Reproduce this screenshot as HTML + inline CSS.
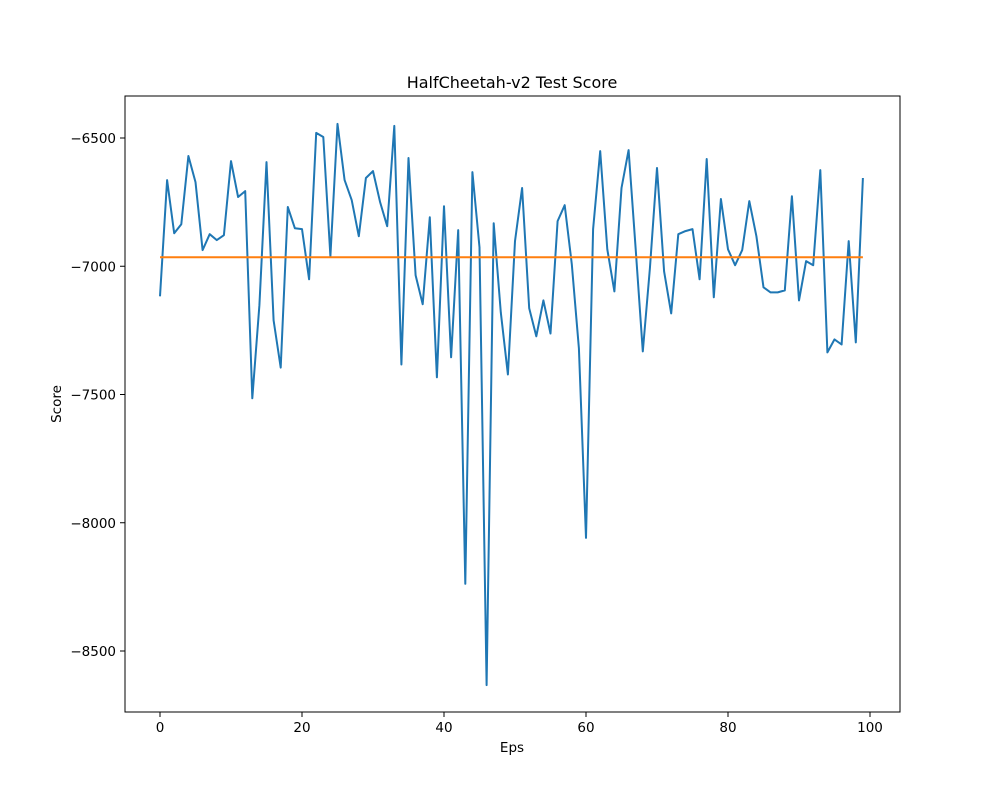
<!DOCTYPE html>
<html><head><meta charset="utf-8"><style>
body{margin:0;background:#fff;}
svg{display:block;font-family:"DejaVu Sans","Liberation Sans",sans-serif;}
</style></head><body>
<svg id="chart" width="1000" height="800">
<rect width="1000" height="800" fill="#fff"/>
<text x="512" y="88" font-size="16" text-anchor="middle">HalfCheetah-v2 Test Score</text>
<text x="512" y="752" font-size="13.5" text-anchor="middle">Eps</text>
<text x="0" y="0" font-size="13.5" text-anchor="middle" transform="translate(61,404) rotate(-90)">Score</text>
<g id="ticks"></g>
<g id="plot"></g>
<rect x="125" y="96" width="775" height="616" fill="none" stroke="#000" stroke-width="1"/>
</svg>
<script>
const scores = [-7117,-6664,-6871,-6836,-6570,-6672,-6937,-6875,-6898,-6879,
-6590,-6730,-6707,-7515,-7152,-6594,-7211,-7395,-6769,-6852,
-6855,-7051,-6480,-6496,-6961,-6445,-6664,-6742,-6883,-6656,
-6629,-6750,-6844,-6453,-7383,-6578,-7035,-7148,-6809,-7433,
-6766,-7355,-6859,-8238,-6633,-6926,-8633,-6832,-7180,-7422,
-6902,-6695,-7164,-7273,-7133,-7262,-6824,-6762,-6992,-7320,
-8059,-6855,-6551,-6934,-7098,-6695,-6547,-6934,-7332,-7008,
-6617,-7020,-7184,-6875,-6863,-6855,-7051,-6582,-7121,-6738,
-6934,-6996,-6937,-6746,-6883,-7082,-7102,-7102,-7094,-6727,
-7133,-6980,-6996,-6625,-7336,-7285,-7305,-6902,-7297,-6656];
const meanScore = [-6965];
const xTicks = [0,20,40,60,80,100];
const yTicks = [-6500,-7000,-7500,-8000,-8500];

const NS="http://www.w3.org/2000/svg";
function xs(v){return 160+(v-0)*7.1;}
function ys(v){return 138+(-6500-v)*(128.25/500);}
const plot=document.getElementById('plot');
const ticks=document.getElementById('ticks');
function mk(tag,attrs,parent){const e=document.createElementNS(NS,tag);for(const k in attrs)e.setAttribute(k,attrs[k]);parent.appendChild(e);return e;}

xTicks.forEach(t=>{
  const l=mk('line',{x1:xs(t),x2:xs(t),y1:712,y2:717,stroke:'#000'},ticks);
  
  
  const tx=mk('text',{x:xs(t),y:732,'font-size':13.5,'text-anchor':'middle'},ticks);
  tx.textContent=t;
  
  
});
yTicks.forEach(t=>{
  const l=mk('line',{x1:120,x2:125,y1:ys(t),y2:ys(t),stroke:'#000'},ticks);
  
  
  const tx=mk('text',{x:116,y:ys(t)+5,'font-size':13.5,'text-anchor':'end'},ticks);
  tx.textContent='\u2212'+Math.abs(t);
  
  
});
const pts=scores.map((v,i)=>xs(i).toFixed(1)+','+ys(v).toFixed(1)).join(' ');
const line=mk('polyline',{points:pts,fill:'none',stroke:'#1f77b4','stroke-width':2,'stroke-linejoin':'round'},plot);


const m=meanScore[0];
const ml=mk('line',{x1:xs(0),x2:xs(scores.length-1),y1:ys(m),y2:ys(m),stroke:'#ff7f0e','stroke-width':2},plot);


</script>
</body></html>
